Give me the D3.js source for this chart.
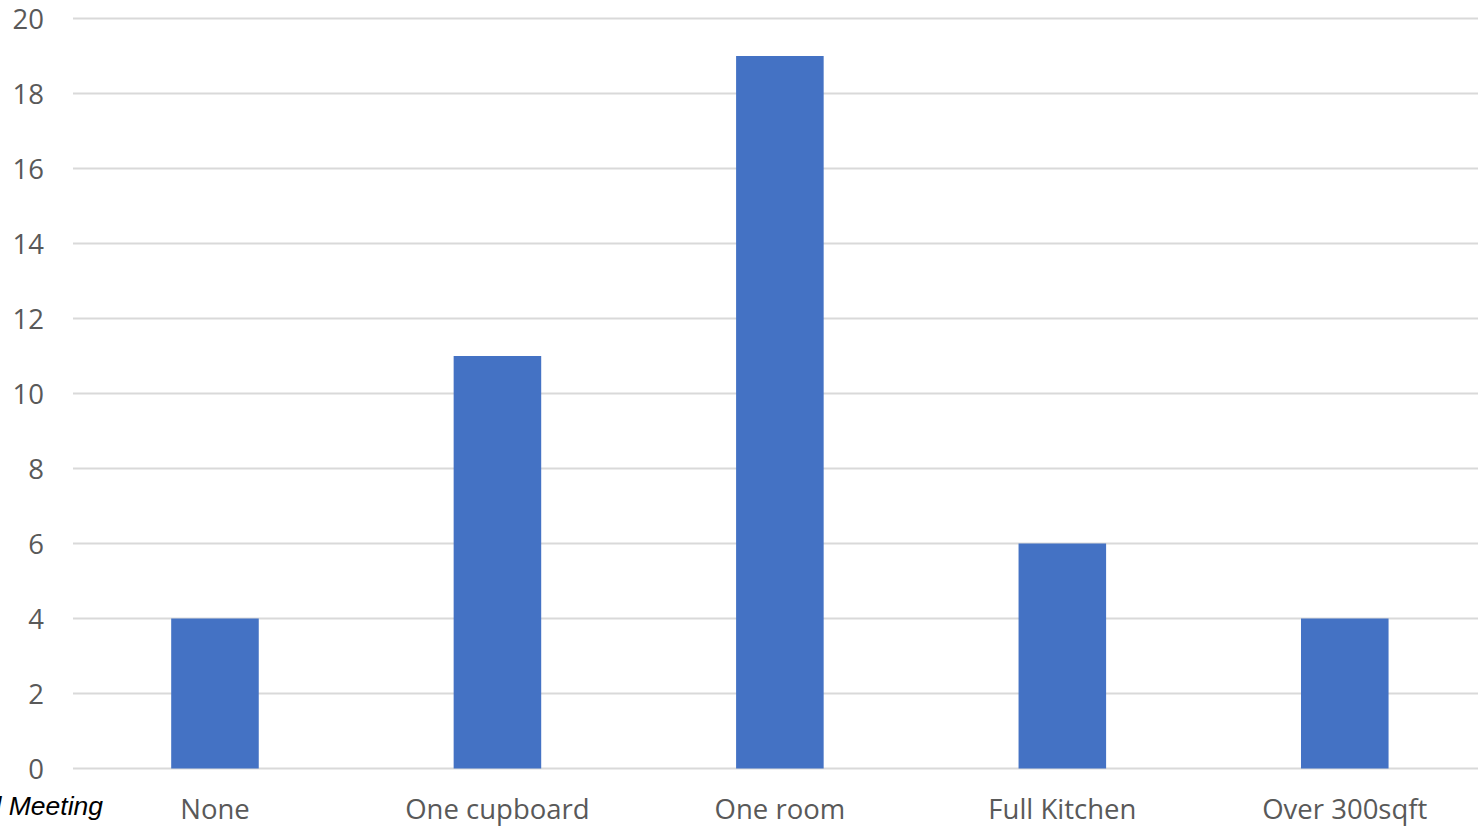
<!DOCTYPE html>
<html>
<head>
<meta charset="utf-8">
<script src="https://cdn.jsdelivr.net/npm/d3@7"></script>
<style>
  html, body { margin: 0; padding: 0; background: #fff; overflow: hidden; }
  svg { display: block; }
</style>
</head>
<body>
<svg id="chart" width="1478" height="826"></svg>
<script>
// Kitchen space responses
const categories = ["None", "One cupboard", "One room", "Full Kitchen", "Over 300sqft"];
const counts = [4, 11, 19, 6, 4];
const yTicks = [0, 2, 4, 6, 8, 10, 12, 14, 16, 18, 20];

const svg = d3.select("#chart");
const plot = { left: 73.75, right: 1486, top: 18.5, bottom: 768.5 };

const x = d3.scaleBand().domain(categories).range([plot.left, plot.right]).paddingInner(0.69).paddingOuter(0.345);
const y = d3.scaleLinear().domain([0, 20]).range([plot.bottom, plot.top]);

const font = "'Open Sans', Lato, sans-serif";

// horizontal gridlines
svg.append("g").selectAll("line").data(yTicks).join("line")
  .attr("x1", 73).attr("x2", 1478)
  .attr("y1", d => y(d)).attr("y2", d => y(d))
  .attr("stroke", "#d9d9d9").attr("stroke-width", 2);

// bars
svg.append("g").selectAll("rect").data(categories).join("rect")
  .attr("x", d => x(d))
  .attr("width", x.bandwidth())
  .attr("y", (d, i) => y(counts[i]))
  .attr("height", (d, i) => y(0) - y(counts[i]))
  .attr("fill", "#4472c4");

// y-axis labels
const yAxis = d3.axisLeft(y).tickValues(yTicks).tickSize(0).tickPadding(0);
const gy = svg.append("g").attr("transform", "translate(44,0)").call(yAxis);
gy.select(".domain").remove();
gy.selectAll("text").attr("font-family", font).attr("font-size", 27.5)
  .attr("fill", "#595959").attr("dy", "0.35em");

// x-axis labels
const xAxis = d3.axisBottom(x).tickSize(0).tickPadding(0);
const gx = svg.append("g").attr("transform", "translate(0,819)").call(xAxis);
gx.select(".domain").remove();
gx.selectAll("text").attr("font-family", font).attr("font-size", 27.5)
  .attr("fill", "#595959").attr("dy", "0");

// caption partially outside the left edge
svg.append("text")
  .attr("x", 103).attr("y", 815)
  .attr("text-anchor", "end")
  .attr("font-family", "'Liberation Sans', Arial, sans-serif")
  .attr("font-style", "italic")
  .attr("font-size", 26.5)
  .attr("fill", "#000")
  .text("Annual Meeting");
</script>
</body>
</html>
